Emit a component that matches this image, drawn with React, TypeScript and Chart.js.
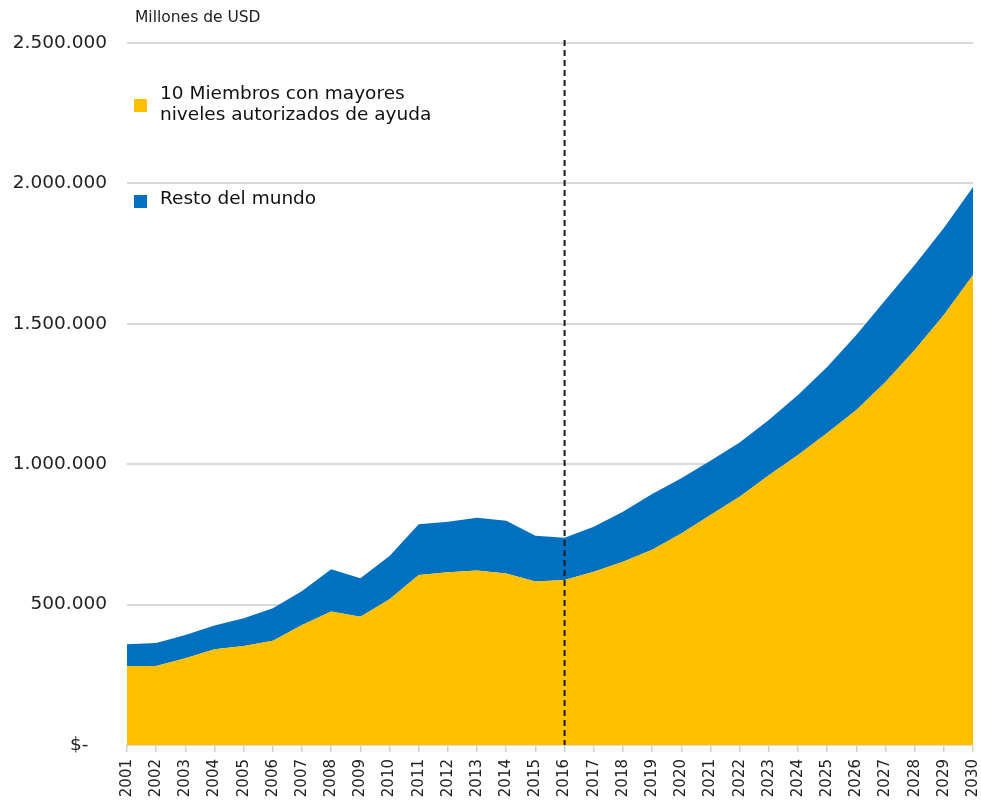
import React, { useEffect, useRef } from "react";
import { Chart, registerables } from "chart.js";

Chart.register(...registerables);

const years: string[] = [
  "2001", "2002", "2003", "2004", "2005", "2006", "2007", "2008", "2009", "2010",
  "2011", "2012", "2013", "2014", "2015", "2016", "2017", "2018", "2019", "2020",
  "2021", "2022", "2023", "2024", "2025", "2026", "2027", "2028", "2029", "2030",
];

const top10Members: number[] = [
  281000, 281000, 309000, 341000, 353000, 371000, 427000, 475000, 457000, 519000,
  605000, 615000, 621000, 611000, 582000, 588000, 617000, 653000, 695000, 753000,
  819000, 884000, 961000, 1033000, 1111000, 1193000, 1293000, 1407000, 1531000, 1674000,
];

const restOfWorld: number[] = [
  78000, 82000, 83000, 85000, 98000, 116000, 121000, 151000, 137000, 154000,
  181000, 180000, 188000, 188000, 163000, 150000, 160000, 178000, 199000, 197000,
  193000, 193000, 196000, 213000, 235000, 267000, 292000, 302000, 310000, 313000,
];

const seriesLabels: string[][] = [
  ["10 Miembros con mayores", "niveles autorizados de ayuda"],
  ["Resto del mundo"],
];
const seriesColors: string[] = ["#FFC000", "#0070C0"];
const unitLabel = "Millones de USD";
const markerYear = "2016";

const FONT = "'DejaVu Sans', Verdana, sans-serif";

function formatTick(v: number): string {
  if (v === 0) return "$-\u2003";
  return Math.round(v).toString().replace(/\B(?=(\d{3})+(?!\d))/g, ".");
}

const overlayPlugin = {
  id: "overlay",
  afterDatasetsDraw(chart: any) {
    const ctx = chart.ctx;
    const x = chart.scales.x.getPixelForValue(years.indexOf(markerYear));
    const bottom = chart.chartArea.bottom;
    ctx.save();
    ctx.strokeStyle = "#1a1a1a";
    ctx.lineWidth = 2;
    ctx.setLineDash([6, 4]);
    ctx.beginPath();
    ctx.moveTo(x, chart.chartArea.top - 3);
    ctx.lineTo(x, bottom);
    ctx.stroke();
    ctx.restore();
  },
  afterDraw(chart: any) {
    const ctx = chart.ctx;
    ctx.save();
    ctx.fillStyle = "#222";
    ctx.font = `15.5px ${FONT}`;
    ctx.textBaseline = "middle";
    ctx.textAlign = "left";
    ctx.fillText(unitLabel, 135, 18);

    const entries = [
      { sq: 99, lines: [94, 115] },
      { sq: 195, lines: [199] },
    ];
    ctx.font = `18.5px ${FONT}`;
    entries.forEach((e, i) => {
      ctx.fillStyle = seriesColors[i];
      ctx.fillRect(134, e.sq, 13, 13);
      ctx.fillStyle = "#111";
      seriesLabels[i].forEach((line, j) => {
        ctx.fillText(line, 160, e.lines[j]);
      });
    });
    ctx.restore();
  },
};

export default function App() {
  const canvasRef = useRef<HTMLCanvasElement | null>(null);

  useEffect(() => {
    if (!canvasRef.current) return;
    const chart = new Chart(canvasRef.current, {
      type: "line",
      data: {
        labels: years,
        datasets: [
          {
            label: seriesLabels[0].join(" "),
            data: top10Members,
            backgroundColor: seriesColors[0],
            borderColor: seriesColors[0],
            borderWidth: 0,
            pointRadius: 0,
            fill: "origin",
            tension: 0,
          },
          {
            label: seriesLabels[1].join(" "),
            data: restOfWorld,
            backgroundColor: seriesColors[1],
            borderColor: seriesColors[1],
            borderWidth: 0,
            pointRadius: 0,
            fill: "-1",
            tension: 0,
          },
        ],
      },
      options: {
        animation: false,
        responsive: true,
        maintainAspectRatio: false,
        layout: { padding: { top: 43, right: 8, left: 0, bottom: 0 } },
        plugins: {
          legend: { display: false },
          tooltip: { enabled: false },
          filler: { propagate: false },
        },
        scales: {
          x: {
            offset: false,
            grid: {
              drawOnChartArea: false,
              drawTicks: true,
              tickLength: 7,
              color: "#d0d0d0",
              lineWidth: 1.5,
            },
            border: { display: true, color: "#d9d9d9", width: 2 },
            ticks: {
              autoSkip: false,
              minRotation: 90,
              maxRotation: 90,
              padding: 7,
              color: "#222",
              font: { family: FONT, size: 15 },
            },
            afterFit(scale: any) {
              scale.height = 57;
              scale.paddingLeft = 0;
              scale.paddingRight = 0;
            },
          },
          y: {
            stacked: true,
            min: 0,
            max: 2500000,
            grid: {
              color: "#d9d9d9",
              lineWidth: 2,
              drawTicks: false,
            },
            border: { display: false },
            ticks: {
              stepSize: 500000,
              padding: 20,
              color: "#222",
              font: { family: FONT, size: 18.5 },
              callback: (v: any) => formatTick(Number(v)),
            },
            afterFit(scale: any) {
              scale.width = 127;
              scale.paddingTop = 0;
              scale.paddingBottom = 0;
            },
          },
        },
      },
      plugins: [overlayPlugin],
    });
    return () => chart.destroy();
  }, []);

  return (
    <div style={{ position: "absolute", left: 0, top: 0, width: 981, height: 802, background: "#fff" }}>
      <canvas ref={canvasRef} />
    </div>
  );
}
